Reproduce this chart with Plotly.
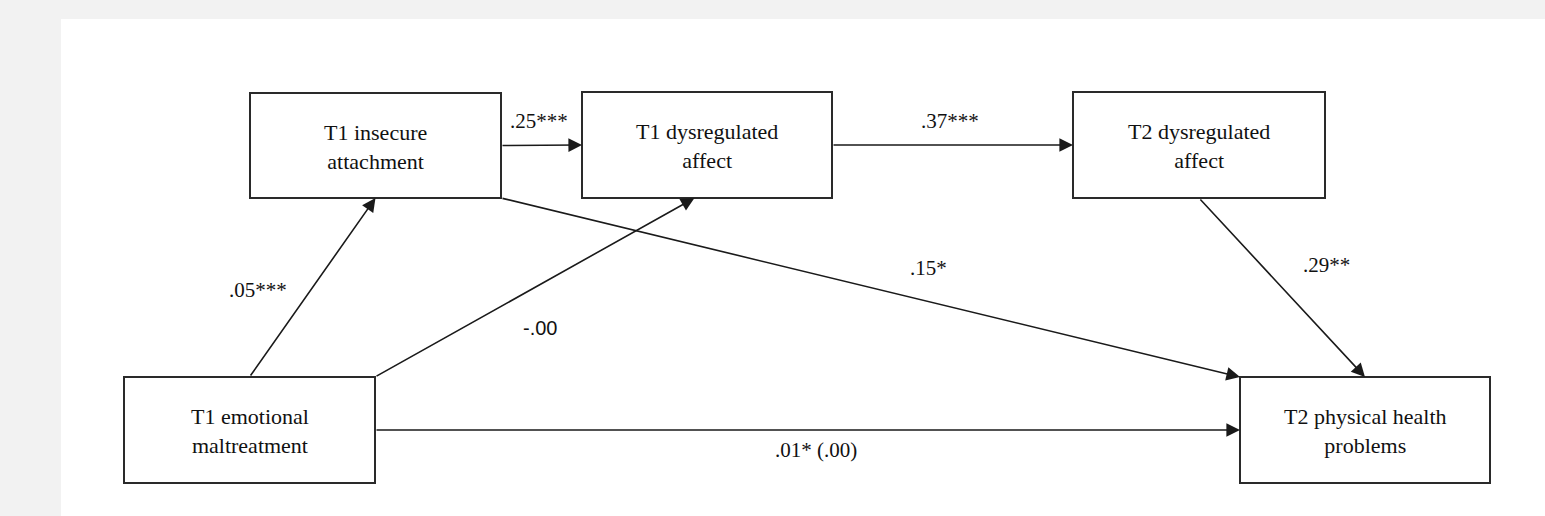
import plotly.graph_objects as go

# ---- data ----
node_ids = ["attach", "dys1", "dys2", "maltreat", "health"]
node_labels = [
    "T1 insecure<br>attachment",
    "T1 dysregulated<br>affect",
    "T2 dysregulated<br>affect",
    "T1 emotional<br>maltreatment",
    "T2 physical health<br>problems",
]
edge_from = ["attach", "dys1", "maltreat", "maltreat", "attach", "dys2", "maltreat"]
edge_to = ["dys1", "dys2", "attach", "dys1", "health", "health", "health"]
edge_labels = [".25***", ".37***", ".05***", "-.00", ".15*", ".29**", ".01* (.00)"]

# ---- layout (diagram geometry, pixel space) ----
node_box = {  # x0, x1, y0, y1
    "attach": (250, 501, 93, 198),
    "dys1": (582, 832, 92, 198),
    "dys2": (1073, 1325, 92, 198),
    "maltreat": (124, 375, 377, 483),
    "health": (1240, 1490, 377, 483),
}
# anchor points as fractions of box (fx, fy)
edge_start_anchor = [(1, 0.5), (1, 0.5), (0.5, 0), (1, 0), (1, 1), (0.5, 1), (1, 0.5)]
edge_end_anchor = [(0, 0.5), (0, 0.5), (0.5, 1), (0.45, 1), (0, 0), (0.5, 0), (0, 0.5)]
label_pos = [(539, 121), (950, 121), (258, 290), (540, 328), (928, 268), (1326, 265), (816, 450)]
SERIF = "Liberation Serif, Times New Roman, DejaVu Serif, serif"
SANS = "Liberation Sans, Arial, sans-serif"
label_font = [SERIF] * 3 + [SANS] + [SERIF] * 3
label_size = [21, 21, 21, 20, 21, 21, 21]


def anchor(nid, a):
    x0, x1, y0, y1 = node_box[nid]
    return x0 + a[0] * (x1 - x0), y0 + a[1] * (y1 - y0)


fig = go.Figure()
fig.add_trace(go.Scatter(x=[0, 1545], y=[0, 516], mode="markers",
                         marker=dict(opacity=0), hoverinfo="skip", showlegend=False))

shapes = [dict(type="rect", xref="x", yref="y", x0=61, x1=1545, y0=19, y1=516,
               fillcolor="white", line=dict(width=0), layer="below")]
annotations = []

for i in range(len(edge_from)):
    sx, sy = anchor(edge_from[i], edge_start_anchor[i])
    ex, ey = anchor(edge_to[i], edge_end_anchor[i])
    annotations.append(dict(x=ex, y=ey, ax=sx, ay=sy, xref="x", yref="y",
                            axref="x", ayref="y", text="", showarrow=True,
                            arrowhead=2, arrowsize=1.7, arrowwidth=1.6,
                            arrowcolor="#1a1a1a", standoff=0, startstandoff=0))
    lx, ly = label_pos[i]
    annotations.append(dict(x=lx, y=ly, xref="x", yref="y", text=edge_labels[i],
                            showarrow=False,
                            font=dict(family=label_font[i], size=label_size[i], color="#111")))

for nid, lab in zip(node_ids, node_labels):
    x0, x1, y0, y1 = node_box[nid]
    shapes.append(dict(type="rect", xref="x", yref="y", x0=x0, x1=x1, y0=y0, y1=y1,
                       fillcolor="white", line=dict(width=2, color="#2a2a2a")))
    annotations.append(dict(x=(x0 + x1) / 2, y=(y0 + y1) / 2 + 1, xref="x", yref="y", text=lab,
                            showarrow=False, align="center",
                            font=dict(family=SERIF, size=22, color="#111")))

fig.update_layout(
    width=1545, height=516,
    margin=dict(l=0, r=0, t=0, b=0),
    paper_bgcolor="#f2f2f2", plot_bgcolor="#f2f2f2",
    xaxis=dict(range=[0, 1545], visible=False, fixedrange=True),
    yaxis=dict(range=[516, 0], visible=False, fixedrange=True),
    shapes=shapes, annotations=annotations,
)
fig.write_html("out.html", config={"displayModeBar": False},
               post_script="document.body.style.margin='0';document.body.style.overflow='hidden';")
